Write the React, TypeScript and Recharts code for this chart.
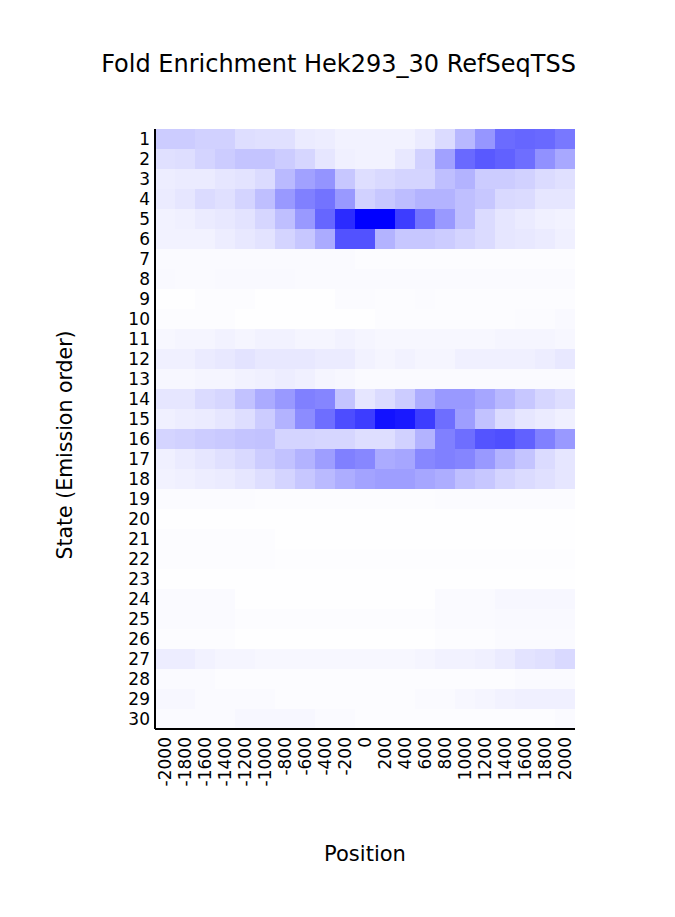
import { BarChart, Bar, Cell, XAxis, YAxis } from 'recharts'

// chromatin states, top to bottom
const states = ['1', '2', '3', '4', '5', '6', '7', '8', '9', '10', '11', '12', '13', '14', '15',
  '16', '17', '18', '19', '20', '21', '22', '23', '24', '25', '26', '27', '28', '29', '30']

// bins around the TSS
const positions = ['-2000', '-1800', '-1600', '-1400', '-1200', '-1000', '-800', '-600', '-400', '-200', '0',
  '200', '400', '600', '800', '1000', '1200', '1400', '1600', '1800', '2000']

// relative fold enrichment per state (row) and position (column), 0..1 of the max
const enrichment: number[][] = [
  [0.2, 0.2, 0.18, 0.18, 0.13, 0.12, 0.12, 0.08, 0.07, 0.05, 0.05, 0.05, 0.05, 0.08, 0.14, 0.28, 0.41, 0.58, 0.6, 0.59, 0.53],
  [0.12, 0.13, 0.17, 0.2, 0.23, 0.23, 0.2, 0.16, 0.1, 0.06, 0.05, 0.05, 0.09, 0.18, 0.37, 0.59, 0.65, 0.62, 0.57, 0.43, 0.34],
  [0.07, 0.08, 0.08, 0.1, 0.11, 0.14, 0.27, 0.37, 0.42, 0.22, 0.13, 0.15, 0.17, 0.17, 0.25, 0.3, 0.2, 0.2, 0.18, 0.14, 0.12],
  [0.08, 0.1, 0.14, 0.12, 0.17, 0.25, 0.4, 0.5, 0.55, 0.4, 0.18, 0.22, 0.26, 0.3, 0.3, 0.25, 0.22, 0.15, 0.14, 0.1, 0.1],
  [0.05, 0.06, 0.08, 0.09, 0.11, 0.16, 0.25, 0.4, 0.6, 0.83, 1.0, 1.0, 0.76, 0.55, 0.4, 0.25, 0.14, 0.1, 0.08, 0.06, 0.05],
  [0.05, 0.05, 0.05, 0.07, 0.09, 0.11, 0.17, 0.22, 0.33, 0.68, 0.68, 0.3, 0.22, 0.22, 0.2, 0.17, 0.14, 0.1, 0.09, 0.08, 0.06],
  [0.02, 0.02, 0.02, 0.02, 0.02, 0.02, 0.02, 0.02, 0.02, 0.02, 0.01, 0.01, 0.01, 0.01, 0.01, 0.01, 0.01, 0.01, 0.01, 0.01, 0.01],
  [0.025, 0.02, 0.02, 0.025, 0.025, 0.025, 0.025, 0.02, 0.02, 0.02, 0.02, 0.02, 0.02, 0.02, 0.02, 0.02, 0.02, 0.02, 0.02, 0.02, 0.02],
  [0.005, 0.005, 0.01, 0.01, 0.01, 0.005, 0.005, 0.005, 0.005, 0.015, 0.015, 0.01, 0.01, 0.015, 0.01, 0.01, 0.01, 0.01, 0.01, 0.01, 0.01],
  [0.01, 0.01, 0.01, 0.01, 0.005, 0.005, 0.005, 0.005, 0.005, 0.005, 0.005, 0.01, 0.01, 0.01, 0.01, 0.01, 0.01, 0.01, 0.015, 0.015, 0.025],
  [0.03, 0.04, 0.04, 0.05, 0.04, 0.05, 0.05, 0.04, 0.04, 0.05, 0.04, 0.03, 0.03, 0.03, 0.03, 0.03, 0.03, 0.04, 0.04, 0.04, 0.03],
  [0.06, 0.06, 0.08, 0.09, 0.11, 0.09, 0.09, 0.09, 0.08, 0.08, 0.05, 0.04, 0.05, 0.04, 0.04, 0.06, 0.06, 0.06, 0.06, 0.07, 0.09],
  [0.03, 0.03, 0.04, 0.04, 0.05, 0.06, 0.07, 0.06, 0.04, 0.03, 0.02, 0.02, 0.02, 0.02, 0.02, 0.02, 0.02, 0.02, 0.02, 0.02, 0.02],
  [0.1, 0.1, 0.14, 0.16, 0.24, 0.33, 0.4, 0.5, 0.48, 0.23, 0.1, 0.14, 0.2, 0.32, 0.4, 0.4, 0.35, 0.28, 0.22, 0.16, 0.13],
  [0.06, 0.07, 0.08, 0.1, 0.13, 0.2, 0.3, 0.45, 0.57, 0.7, 0.76, 0.93, 0.9, 0.76, 0.57, 0.38, 0.24, 0.14, 0.1, 0.08, 0.06],
  [0.17, 0.18, 0.2, 0.21, 0.23, 0.24, 0.17, 0.17, 0.16, 0.16, 0.13, 0.13, 0.18, 0.3, 0.5, 0.57, 0.67, 0.69, 0.62, 0.5, 0.4],
  [0.06, 0.08, 0.1, 0.12, 0.15, 0.2, 0.24, 0.3, 0.38, 0.5, 0.47, 0.33, 0.35, 0.47, 0.5, 0.48, 0.4, 0.3, 0.23, 0.14, 0.1],
  [0.05, 0.06, 0.07, 0.08, 0.1, 0.13, 0.17, 0.22, 0.27, 0.32, 0.36, 0.38, 0.38, 0.35, 0.32, 0.25, 0.22, 0.17, 0.14, 0.12, 0.1],
  [0.015, 0.015, 0.015, 0.015, 0.015, 0.01, 0.01, 0.01, 0.01, 0.01, 0.01, 0.01, 0.01, 0.01, 0.015, 0.015, 0.015, 0.015, 0.015, 0.015, 0.015],
  [0.005, 0.005, 0.005, 0.005, 0.005, 0.005, 0.005, 0.005, 0.005, 0.005, 0.005, 0.005, 0.005, 0.005, 0.005, 0.005, 0.005, 0.005, 0.005, 0.005, 0.005],
  [0.01, 0.01, 0.01, 0.01, 0.01, 0.01, 0.004, 0.004, 0.004, 0.004, 0.004, 0.004, 0.004, 0.004, 0.004, 0.004, 0.004, 0.004, 0.004, 0.004, 0.004],
  [0.01, 0.01, 0.01, 0.01, 0.01, 0.01, 0.008, 0.008, 0.008, 0.008, 0.008, 0.008, 0.008, 0.008, 0.008, 0.008, 0.008, 0.008, 0.008, 0.008, 0.008],
  [0.005, 0.005, 0.005, 0.005, 0.005, 0.005, 0.005, 0.005, 0.005, 0.005, 0.005, 0.005, 0.005, 0.005, 0.005, 0.005, 0.005, 0.005, 0.005, 0.005, 0.005],
  [0.02, 0.02, 0.02, 0.02, 0.005, 0.005, 0.005, 0.005, 0.005, 0.005, 0.005, 0.005, 0.005, 0.005, 0.02, 0.02, 0.02, 0.03, 0.03, 0.03, 0.03],
  [0.02, 0.02, 0.02, 0.02, 0.01, 0.01, 0.01, 0.01, 0.01, 0.01, 0.01, 0.01, 0.01, 0.01, 0.02, 0.02, 0.02, 0.025, 0.025, 0.025, 0.025],
  [0.01, 0.01, 0.01, 0.01, 0.005, 0.005, 0.005, 0.005, 0.005, 0.005, 0.005, 0.005, 0.005, 0.005, 0.01, 0.01, 0.01, 0.02, 0.02, 0.02, 0.02],
  [0.07, 0.07, 0.05, 0.04, 0.04, 0.03, 0.03, 0.03, 0.03, 0.03, 0.03, 0.03, 0.03, 0.04, 0.05, 0.05, 0.06, 0.08, 0.11, 0.12, 0.15],
  [0.02, 0.02, 0.02, 0.01, 0.01, 0.01, 0.01, 0.01, 0.01, 0.01, 0.01, 0.01, 0.01, 0.01, 0.01, 0.01, 0.01, 0.01, 0.02, 0.02, 0.02],
  [0.03, 0.03, 0.02, 0.02, 0.02, 0.02, 0.01, 0.01, 0.01, 0.01, 0.01, 0.01, 0.01, 0.02, 0.02, 0.03, 0.04, 0.05, 0.06, 0.06, 0.06],
  [0.02, 0.02, 0.02, 0.02, 0.03, 0.03, 0.03, 0.03, 0.02, 0.02, 0.01, 0.01, 0.01, 0.01, 0.01, 0.01, 0.01, 0.01, 0.01, 0.01, 0.02],
]

// white -> pure blue
function shade(v: number) {
  const c = Math.round(255 * (1 - v))
  return `rgb(${c},${c},255)`
}

// every cell is one unit wide, stacked across the row
const rows = states.map(state => {
  const row: Record<string, string | number> = { state }
  positions.forEach((_, j) => { row[`c${j}`] = 1 })
  return row
})

const tickPos = positions.map((_, j) => j + 0.5)

function PosTick({ x, y, payload }: any) {
  const label = positions[Math.round(payload.value - 0.5)]
  return (
    <text x={x} y={y + 6} transform={`rotate(-90 ${x} ${y + 6})`} textAnchor="end" dy="0.36em" fontSize={17} fill="#000">
      {label}
    </text>
  )
}

export default function App() {
  return (
    <div style={{ position: 'absolute', left: 0, top: 0, width: 675, height: 917, background: '#fff', fontFamily: '"DejaVu Sans", sans-serif' }}>
      <div style={{ position: 'absolute', left: 0, top: 50, width: 675, paddingLeft: 2, boxSizing: 'border-box', textAlign: 'center', fontSize: 24, lineHeight: '28px', color: '#000' }}>
        Fold Enrichment Hek293_30 RefSeqTSS
      </div>
      <BarChart
        width={675}
        height={917}
        data={rows}
        layout="vertical"
        margin={{ top: 129, right: 100, bottom: 128, left: 100 }}
        barCategoryGap={0}
        barGap={0}
      >
        <XAxis
          type="number"
          domain={[0, 21]}
          ticks={tickPos}
          interval={0}
          tick={<PosTick />}
          tickLine={false}
          tickSize={0}
          axisLine={{ stroke: '#000', strokeWidth: 2 }}
          height={60}
          allowDataOverflow
        />
        <YAxis
          type="category"
          dataKey="state"
          width={55}
          interval={0}
          tickLine={false}
          tickSize={0}
          tickMargin={5}
          axisLine={{ stroke: '#000', strokeWidth: 2 }}
          tick={{ fill: '#000', fontSize: 17 }}
        />
        {positions.map((p, j) => (
          <Bar key={p} dataKey={`c${j}`} stackId="heat" isAnimationActive={false}>
            {states.map((s, i) => (
              <Cell key={s} fill={shade(enrichment[i][j])} />
            ))}
          </Bar>
        ))}
      </BarChart>
      <div style={{ position: 'absolute', left: 0, top: 842, width: 675, paddingLeft: 55, boxSizing: 'border-box', textAlign: 'center', fontSize: 21, lineHeight: '24px', color: '#000' }}>
        Position
      </div>
      <div style={{ position: 'absolute', left: 65, top: 445, transform: 'translate(-50%, -50%) rotate(-90deg)', whiteSpace: 'nowrap', fontSize: 20.5, lineHeight: '24px', color: '#000' }}>
        State (Emission order)
      </div>
    </div>
  )
}
